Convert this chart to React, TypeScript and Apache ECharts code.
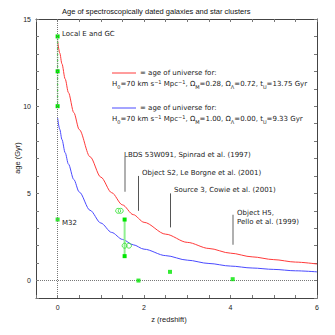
import React, { useEffect, useRef } from "react";
import * as echarts from "echarts";

// redshift samples for the two age-of-universe curves
const zCurve = [0, 0.05, 0.1, 0.175, 0.25, 0.375, 0.5, 0.75, 1, 1.25, 1.5, 1.75, 2, 2.5, 3, 3.5, 4, 4.5, 5, 5.5, 6];
const ageLambda = [13.75, 13.05, 12.43, 11.56, 10.78, 9.63, 8.66, 7.1, 5.93, 5.04, 4.34, 3.78, 3.34, 2.66, 2.19, 1.84, 1.57, 1.36, 1.2, 1.06, 0.95];
const ageEdS = [9.33, 8.67, 8.09, 7.33, 6.68, 5.79, 5.08, 4.03, 3.3, 2.76, 2.36, 2.05, 1.8, 1.43, 1.17, 0.98, 0.83, 0.72, 0.64, 0.56, 0.5];

// Local E and GC ages (z = 0)
const localZ = [0, 0, 0];
const localAge = [10, 12, 14];
// M32
const m32 = [0, 3.5];
// LBDS 53W091 range bar
const lbdsZ = [1.55, 1.55];
const lbdsAge = [1.4, 3.5];
// open circles
const openZ = [1.4, 1.46, 1.55, 1.65];
const openAge = [4.0, 4.0, 2.0, 2.0];
// other filled points
const pointZ = [1.87, 2.6, 4.05];
const pointAge = [0.0, 0.5, 0.08];

// annotation pointer lines
const annZ = [1.55, 1.87, 2.6, 4.04];
const annTop = [7.1, 6.0, 5.0, 3.77];
const annBottom = [5.1, 4.0, 3.05, 2.05];

const GREEN = "#00e600";

export default function App() {
  const ref = useRef<HTMLDivElement>(null);
  useEffect(() => {
    if (!ref.current) return;
    const chart = echarts.init(ref.current, undefined, { renderer: "svg" });
    const font = "DejaVu Sans";
    const axisCommon = {
      type: "value",
      axisLine: { show: true, onZero: false, lineStyle: { color: "#444", width: 1 } },
      axisTick: { show: true, inside: true, length: 3, lineStyle: { color: "#777" } },
      splitLine: { show: false },
    };
    const annStyles = [
      { color: "#b0b0b0", width: 2 },
      { color: "#555", width: 1 },
      { color: "#555", width: 1 },
      { color: "#b0b0b0", width: 2 },
    ];
    const rich = {
      sub: { fontSize: 5, fontFamily: font, verticalAlign: "bottom", lineHeight: 10, padding: [3, 0, 0, 0] },
      sup: { fontSize: 5, fontFamily: font, verticalAlign: "top", lineHeight: 10, padding: [0, 0, 3, 0] },
    };
    const txt = (x: number, y: number, text: string, extra: any = {}) => ({
      type: "text",
      x,
      y,
      style: {
        text,
        fontSize: 7,
        fontFamily: font,
        fill: "#222",
        verticalAlign: "middle",
        align: "left",
        ...extra,
      },
    });
    chart.setOption({
      animation: false,
      backgroundColor: "#fff",
      title: {
        text: "Age of spectroscopically dated galaxies and star clusters",
        left: 57,
        top: 2,
        textStyle: { fontSize: 7.5, fontWeight: "normal", fontFamily: "Liberation Sans", color: "#111" },
      },
      grid: { left: 36, right: 18, top: 19, bottom: 37 },
      xAxis: [
        {
          ...axisCommon,
          position: "bottom",
          min: -0.5,
          max: 6,
          interval: 0.5,
          axisLabel: {
            fontSize: 7,
            fontFamily: "Liberation Sans",
            color: "#222",
            margin: 6,
            formatter: (v: number) => (v >= 0 && Math.abs(v % 2) < 1e-9 ? String(v) : ""),
          },
        },
        {
          ...axisCommon,
          position: "top",
          min: -0.5,
          max: 6,
          interval: 0.5,
          axisLabel: { show: false },
        },
      ],
      yAxis: [
        {
          ...axisCommon,
          position: "left",
          min: -1,
          max: 15,
          interval: 1,
          axisLabel: {
            fontSize: 7,
            fontFamily: "Liberation Sans",
            color: "#222",
            margin: 5,
            formatter: (v: number) => (v >= 0 && v % 5 === 0 ? String(v) : ""),
          },
        },
        {
          ...axisCommon,
          position: "right",
          min: -1,
          max: 15,
          interval: 1,
          axisLabel: { show: false },
        },
      ],
      series: [
        {
          type: "line",
          name: "lambda",
          data: zCurve.map((z, i) => [z, ageLambda[i]]),
          smooth: 0.3,
          smoothMonotone: "x",
          showSymbol: false,
          lineStyle: { color: "#ff3a3a", width: 1 },
          z: 3,
          markLine: {
            silent: true,
            symbol: "none",
            label: { show: false },
            lineStyle: { color: "#777", type: "dotted", width: 1 },
            data: [{ xAxis: 0 }, { yAxis: 0 }],
          },
        },
        {
          type: "line",
          name: "eds",
          data: zCurve.map((z, i) => [z, ageEdS[i]]),
          smooth: 0.3,
          smoothMonotone: "x",
          showSymbol: false,
          lineStyle: { color: "#4a4aff", width: 1 },
          z: 3,
          markLine: {
            silent: true,
            symbol: "none",
            label: { show: false },
            data: annZ.map((z, i) => [
              { coord: [z, annTop[i]], lineStyle: { ...annStyles[i], type: "solid" } },
              { coord: [z, annBottom[i]] },
            ]),
          },
        },
        {
          type: "line",
          name: "local",
          data: localZ.map((z, i) => [z, localAge[i]]),
          symbol: "rect",
          symbolSize: 4,
          itemStyle: { color: GREEN },
          lineStyle: { color: "#60e060", type: "dotted", width: 1.5 },
          z: 4,
        },
        {
          type: "scatter",
          name: "m32",
          data: [m32],
          symbol: "rect",
          symbolSize: 4,
          itemStyle: { color: GREEN },
          z: 4,
        },
        {
          type: "line",
          name: "lbds",
          data: lbdsZ.map((z, i) => [z, lbdsAge[i]]),
          symbol: "rect",
          symbolSize: 4,
          itemStyle: { color: GREEN },
          lineStyle: { color: "#90f090", width: 2 },
          z: 4,
        },
        {
          type: "scatter",
          name: "open",
          data: openZ.map((z, i) => [z, openAge[i]]),
          symbol: "circle",
          symbolSize: 5,
          itemStyle: { color: "rgba(0,0,0,0)", borderColor: "#30e030", borderWidth: 1 },
          z: 5,
        },
        {
          type: "scatter",
          name: "points",
          data: pointZ.map((z, i) => [z, pointAge[i]]),
          symbol: "rect",
          symbolSize: 4,
          itemStyle: { color: GREEN },
          z: 5,
        },
      ],
      graphic: [
        { type: "line", shape: { x1: 112, y1: 73, x2: 136, y2: 73 }, style: { stroke: "#ff3a3a", lineWidth: 1 } },
        txt(140, 73, "= age of universe for:"),
        txt(112, 84, "H{sub|0}=70 km s{sup|−1} Mpc{sup|−1}, Ω{sub|M}=0.28, Ω{sub|Λ}=0.72, t{sub|U}=13.75 Gyr", { rich }),
        { type: "line", shape: { x1: 112, y1: 108, x2: 136, y2: 108 }, style: { stroke: "#4a4aff", lineWidth: 1 } },
        txt(140, 108, "= age of universe for:"),
        txt(112, 119, "H{sub|0}=70 km s{sup|−1} Mpc{sup|−1}, Ω{sub|M}=1.00, Ω{sub|Λ}=0.00, t{sub|U}=9.33 Gyr", { rich }),
        txt(124, 155, "LBDS 53W091, Spinrad et al. (1997)"),
        txt(142, 172.5, "Object S2, Le Borgne et al. (2001)"),
        txt(174, 190, "Source 3, Cowie et al. (2001)"),
        txt(237, 212.5, "Object H5,"),
        txt(237, 221.5, "Pello et al. (1999)"),
        txt(62, 34, "Local E and GC"),
        txt(62, 222.5, "M32"),
        {
          type: "text",
          x: 169,
          y: 319,
          style: { text: "z (redshift)", fontSize: 7.5, fontFamily: "Liberation Sans", fill: "#222", align: "center", verticalAlign: "middle" },
        },
        {
          type: "text",
          x: 17,
          y: 158,
          rotation: Math.PI / 2,
          style: { text: "age (Gyr)", fontSize: 7.5, fontFamily: "Liberation Sans", fill: "#222", align: "center", verticalAlign: "middle" },
        },
      ],
    });
    return () => chart.dispose();
  }, []);
  return <div ref={ref} style={{ width: 335, height: 335, position: "absolute", left: 0, top: 0 }} />;
}
